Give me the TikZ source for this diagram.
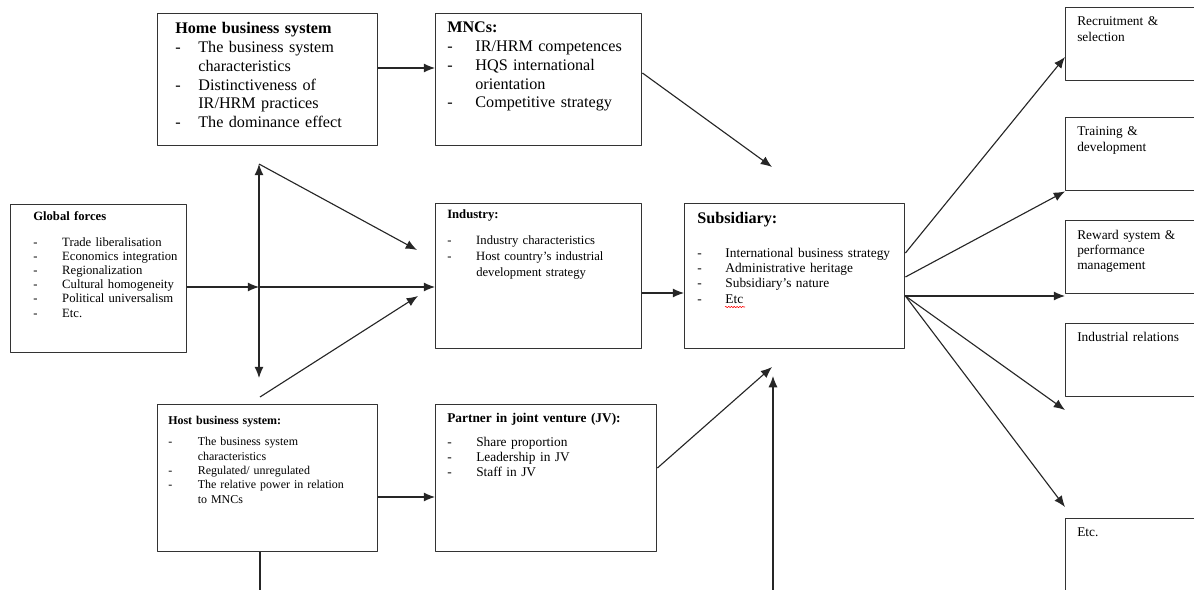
\documentclass[tikz,border=0pt]{standalone}
\usepackage{fontspec}
\setmainfont{Liberation Serif}
\usetikzlibrary{arrows.meta,decorations.pathmorphing}
\newlength\dashw
\newcommand\dl[1]{\par\noindent\hangindent=\dashw\hangafter=1\makebox[\dashw][l]{-}#1\par}
\tikzset{
  box/.style={draw=black!80, line width=1pt, anchor=north west, inner sep=0pt},
  sz/.style 2 args={minimum width=#1*0.025cm, minimum height=#2*0.025cm},
  txt/.style={anchor=base west, inner sep=0pt, align=left, text width=#1},
  hangw/.style={execute at begin node={\setlength\dashw{#1}}},
  link/.style={draw=black!85, line width=0.8pt},
}
\begin{document}
\begin{tikzpicture}[x=0.025cm, y=-0.025cm, line join=round, >={Latex[length=8pt,width=6.5pt]}]
\useasboundingbox (0,0) rectangle (1194,590);
\clip (0,0) rectangle (1194,590);
% boxes
\node[box, sz={176}{148}] (global) at (10,204) {};
\node[box, sz={220}{132}] (home) at (157,13) {};
\node[box, sz={206}{132}] (mncs) at (435,13) {};
\node[box, sz={206}{145}] (industry) at (435,203) {};
\node[box, sz={220}{145}] (subsid) at (684,203) {};
\node[box, sz={220}{147}] (host) at (157,404) {};
\node[box, sz={221}{147}] (partner) at (435,404) {};
\node[box, sz={145}{73}] (recruit) at (1065,7) {};
\node[box, sz={145}{73}] (training) at (1065,117) {};
\node[box, sz={145}{73}] (reward) at (1065,220) {};
\node[box, sz={145}{73}] (indrel) at (1065,323) {};
\node[box, sz={145}{100}] (etc) at (1065,518) {};
% texts
\node[txt=108pt, hangw=20.6pt, font=\fontsize{9}{10.1}\selectfont] (globalt) at (33,221) {%
  {\bfseries Global forces}\par\vspace{7.7pt}
  \dl{Trade liberalisation}\dl{Economics integration}\dl{Regionalization}%
  \dl{Cultural homogeneity}\dl{Political universalism}\dl{Etc.}};
\node[txt=143pt, hangw=16.4pt, font=\fontsize{11.5}{13.3}\selectfont] (homet) at (175,34) {%
  {\bfseries Home business system}
  \dl{The business system\newline characteristics}%
  \dl{Distinctiveness of\newline IR/HRM practices}%
  \dl{The dominance effect}};
\node[txt=140pt, hangw=20pt, font=\fontsize{11.5}{13.3}\selectfont] (mncst) at (447,33) {%
  {\bfseries MNCs:}
  \dl{IR/HRM competences}%
  \dl{HQS international\newline orientation}%
  \dl{Competitive strategy}};
\node[txt=138pt, hangw=20.6pt, font=\fontsize{9}{11.4}\selectfont] (industryt) at (447,219) {%
  {\bfseries Industry:}\par\vspace{6.4pt}
  \dl{Industry characteristics}%
  \dl{Host country’s industrial\newline development strategy}};
\node[txt=147pt, hangw=20pt, font=\fontsize{9.5}{10.9}\selectfont] (subsidt) at (697,224) {%
  {\fontsize{11.5}{12}\selectfont\bfseries Subsidiary:}\par\vspace{12.6pt}
  \dl{International business strategy}\dl{Administrative heritage}%
  \dl{Subsidiary’s nature}\dl{Etc}};
\node[txt=148pt, hangw=21pt, font=\fontsize{8.5}{10.2}\selectfont] (hostt) at (168,424) {%
  {\bfseries Host business system:}\par\vspace{5.4pt}
  \dl{The business system\newline characteristics}%
  \dl{Regulated/ unregulated}%
  \dl{The relative power in relation\newline to MNCs}};
\node[txt=148pt, hangw=20.6pt, font=\fontsize{9.5}{11}\selectfont] (partnert) at (447,422) {%
  {\bfseries Partner in joint venture (JV):}\par\vspace{6.1pt}
  \dl{Share proportion}\dl{Leadership in JV}\dl{Staff in JV}};
\node[txt=85pt, font=\fontsize{9.5}{10.7}\selectfont] (recruitt) at (1077,26) {Recruitment \&\\selection};
\node[txt=85pt, font=\fontsize{9.5}{10.7}\selectfont] (trainingt) at (1077,136) {Training \&\\development};
\node[txt=85pt, font=\fontsize{9.5}{10.7}\selectfont] (rewardt) at (1077,239) {Reward system \&\\performance\\management};
\node[txt=85pt, font=\fontsize{9.5}{10.7}\selectfont] (indrelt) at (1077,341) {Industrial relations};
\node[txt=85pt, font=\fontsize{9.5}{10.7}\selectfont] (etct) at (1077,536) {Etc.};
\draw[red, line width=0.4pt, decorate, decoration={snake, amplitude=0.5pt, segment length=2pt}] (725,307) -- (745,307);
% free ends
\coordinate (hub) at (259,287);
\coordinate (vtop) at (259,164);
\coordinate (vbot) at (259,378);
\coordinate (i1) at (417,250);
\coordinate (h1) at (260,397);
\coordinate (i2) at (418,296);
\coordinate (s1) at (772,167);
\coordinate (s2) at (772,367);
\coordinate (s3) at (773,376);
\coordinate (subin) at (773,590);
\coordinate (hostout) at (260,590);
\coordinate (r4) at (1065,410);
\coordinate (r5) at (1065,507);
% connectors
\draw[link,->] (home.east |- 0,68) -- (mncs.west |- 0,68);
\draw[link,->] (mncs.east |- 0,73) -- (s1);
\draw[link,->] (global.east |- hub) -- (hub);
\draw[link,->] (hub) -- (industry.west |- hub);
\draw[link,<->] (vtop) -- (vbot);
\draw[link,->] (vtop) -- (i1);
\draw[link,->] (h1) -- (i2);
\draw[link,->] (industry.east |- 0,293) -- (subsid.west |- 0,293);
\draw[link,->] (host.east |- 0,497) -- (partner.west |- 0,497);
\draw[link] (host.south -| hostout) -- (hostout);
\draw[link,->] (partner.east |- 0,468) -- (s2);
\draw[link,->] (subin) -- (s3);
\draw[link,->] (subsid.east |- 0,253) -- (recruit.west |- 0,57);
\draw[link,->] (subsid.east |- 0,277) -- (training.south west);
\draw[link,->] (subsid.east |- 0,296) -- (reward.west |- 0,296);
\draw[link,->] (subsid.east |- 0,296) -- (r4);
\draw[link,->] (subsid.east |- 0,296) -- (r5);
\end{tikzpicture}
\end{document}
